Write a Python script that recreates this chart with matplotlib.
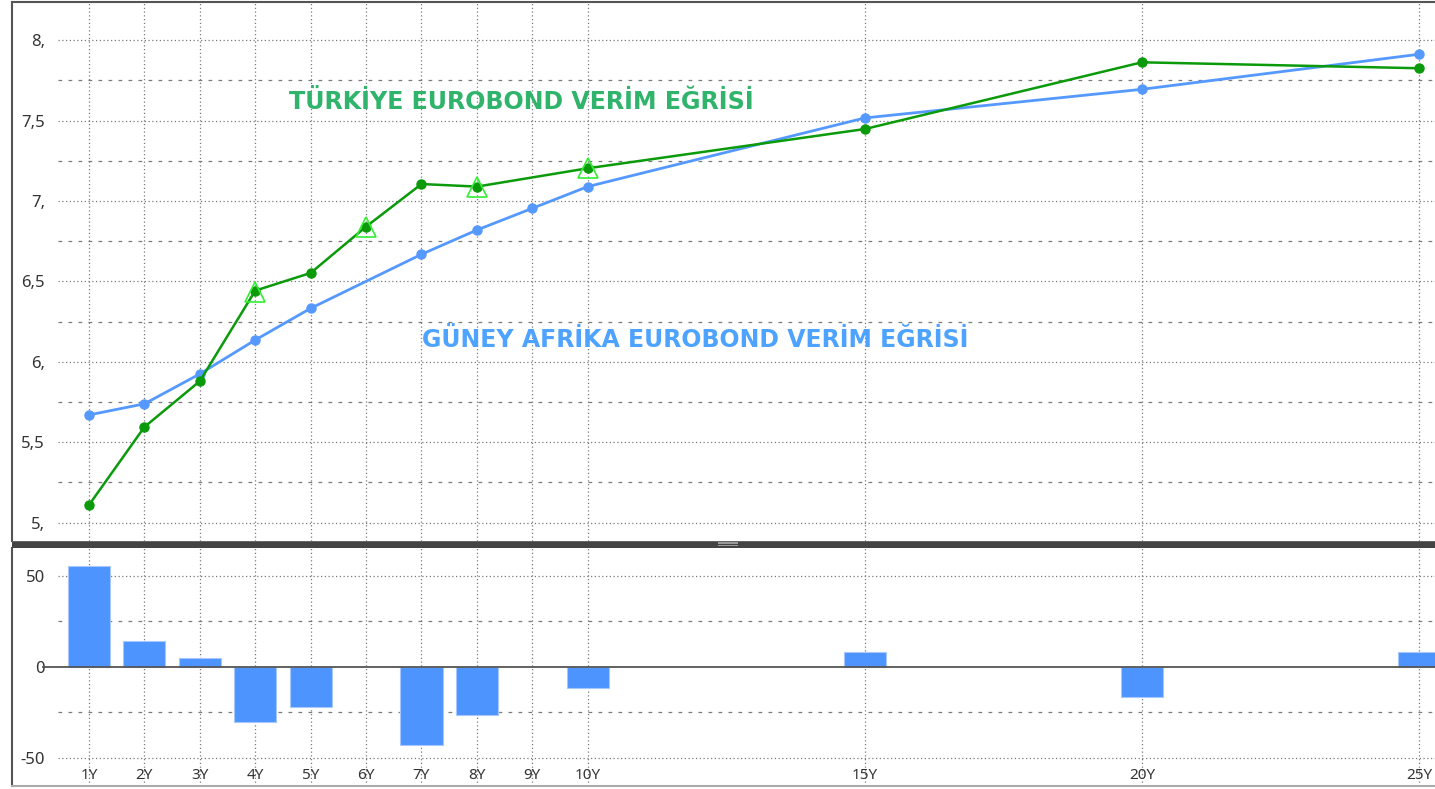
#!/usr/bin/env python3

import matplotlib
matplotlib.use('Agg')
import matplotlib.pyplot as plt
from matplotlib.patches import Rectangle

# maturities (years) and tick labels
tenors = [1, 2, 3, 4, 5, 6, 7, 8, 9, 10, 15, 20, 25]
tenor_labels = ['1Y', '2Y', '3Y', '4Y', '5Y', '6Y', '7Y', '8Y', '9Y', '10Y', '15Y', '20Y', '25Y']

# Turkiye eurobond yields (no 9Y point)
tr_x = [1, 2, 3, 4, 5, 6, 7, 8, 10, 15, 20, 25]
tr_y = [5.11, 5.595, 5.88, 6.443, 6.553, 6.841, 7.106, 7.09, 7.204, 7.448, 7.863, 7.826]

# second set of Turkiye quotes (open triangles)
tr2_x = [4, 6, 8, 10]
tr2_y = [6.437, 6.841, 7.085, 7.203]

# South Africa eurobond yields (no 6Y point)
za_x = [1, 2, 3, 4, 5, 7, 8, 9, 10, 15, 20, 25]
za_y = [5.67, 5.739, 5.925, 6.136, 6.333, 6.669, 6.82, 6.955, 7.09, 7.517, 7.695, 7.913]

# spread, basis points
spread_x = [1, 2, 3, 4, 5, 7, 8, 10, 15, 20, 25]
spread_y = [55.3, 14.1, 4.6, -30.2, -22.0, -43.2, -26.7, -11.7, 8.2, -16.5, 8.2]

top_major = [5.0, 5.5, 6.0, 6.5, 7.0, 7.5, 8.0]
top_major_labels = ['5,', '5,5', '6,', '6,5', '7,', '7,5', '8,']
top_minor = [5.25, 5.75, 6.25, 6.75, 7.25, 7.75]
bot_major = [-50, 0, 50]
bot_minor = [-25, 25]

W, H = 1435, 789
L = 12  # left frame, px
fig = plt.figure(figsize=(W/100, H/100), dpi=100)
fig.patch.set_facecolor('white')

GRID = '#7a7a7a'
TXT = '#333333'
xpx = (1419 - 89) / 24.0   # px per year
xlim = (1 - (89 - L) / xpx, 25 + (W - 1419) / xpx)
gx0 = (58 - L) / (W - L)   # horizontal grid starts a bit right of the frame

ax = fig.add_axes([L/W, (H-541)/H, (W-L)/W, 539/H])
bx = fig.add_axes([L/W, (H-786)/H, (W-L)/W, 238/H])

# ---- top panel: yield curves
ax.set_xlim(*xlim)
ax.set_ylim(4.886, 8.238)
for t in tenors:
    ax.axvline(t, color=GRID, lw=0.9, ls=(0, (1, 2)), zorder=1)
for v in top_major:
    ax.axhline(v, xmin=gx0, color=GRID, lw=0.9, ls=(0, (1, 2)), zorder=1)
for v in top_minor:
    ax.axhline(v, xmin=gx0, color=GRID, lw=0.9, ls=(0, (3, 5)), zorder=1)

ax.plot(za_x, za_y, color='#5599ff', lw=2.0, marker='o', ms=6.5, zorder=3)
ax.plot(tr_x, tr_y, color='#0a9a0a', lw=1.8, marker='o', ms=6.5, zorder=4)
ax.plot(tr2_x, tr2_y, ls='none', marker='^', ms=15, mfc='none', mec='#33ee33', mew=1.2, zorder=5)

ax.text(289, H - 102, 'TÜRKİYE EUROBOND VERİM EĞRİSİ', transform=None, color='#30b36b',
        fontsize=17.1, fontweight='bold', family='DejaVu Sans', ha='left', va='center')
ax.text(422, H - 340, 'GÜNEY AFRİKA EUROBOND VERİM EĞRİSİ', transform=None, color='#4da3ff',
        fontsize=17.0, fontweight='bold', family='DejaVu Sans', ha='left', va='center')

ax.set_xticks([])
ax.set_yticks(top_major)
ax.set_yticklabels(top_major_labels, family='Noto Sans', fontsize=12, color=TXT)
ax.tick_params(axis='y', length=0, pad=-(45 - L) * 0.72)
for s in ['right', 'bottom']:
    ax.spines[s].set_visible(False)
for s in ['left', 'top']:
    ax.spines[s].set_color('#555555')
    ax.spines[s].set_linewidth(1.5)

# ---- bottom panel: spread bars
bx.set_xlim(*xlim)
bx.set_ylim(-65.5, 65.2)
for t in tenors:
    bx.axvline(t, color=GRID, lw=0.9, ls=(0, (1, 2)), zorder=1)
for v in bot_major:
    if v != 0:
        bx.axhline(v, xmin=gx0, color=GRID, lw=0.9, ls=(0, (1, 2)), zorder=1)
for v in bot_minor:
    bx.axhline(v, xmin=gx0, color=GRID, lw=0.9, ls=(0, (3, 5)), zorder=1)
bx.bar(spread_x, spread_y, width=0.76, color='#4d94ff', edgecolor='#a6c8ff', lw=0.8, zorder=2)
bx.axhline(0, xmin=(43 - L) / (W - L), color='#555555', lw=1.3, zorder=3)

bx.set_xticks(tenors)
bx.set_xticklabels(tenor_labels, family='Noto Sans', fontsize=11, color=TXT)
bx.tick_params(axis='x', length=0, pad=-13)
bx.set_yticks(bot_major)
bx.set_yticklabels([str(v) for v in bot_major], family='Noto Sans', fontsize=12, color=TXT)
bx.tick_params(axis='y', length=0, pad=-(45 - L) * 0.72)
for s in ['right', 'top']:
    bx.spines[s].set_visible(False)
bx.spines['left'].set_color('#555555')
bx.spines['left'].set_linewidth(1.5)
bx.spines['bottom'].set_color('#aaaaaa')
bx.spines['bottom'].set_linewidth(1.5)

# ---- splitter bar between panels with its grip
fig.patches.append(Rectangle((L/W, (H-548)/H), (W-L)/W, 7/H, transform=fig.transFigure,
                             facecolor='#444444', edgecolor='none', zorder=10))
fig.patches.append(Rectangle((L/W, (H-542)/H), (W-L)/W, 1/H, transform=fig.transFigure,
                             facecolor='#666666', edgecolor='none', zorder=11))
for yy in (543.5, 546):
    fig.patches.append(Rectangle((718/W, (H-yy)/H), 20/W, 1.2/H, transform=fig.transFigure,
                                 facecolor='#9a9a9a', edgecolor='none', zorder=12))

fig.savefig('out.png', dpi=100)
